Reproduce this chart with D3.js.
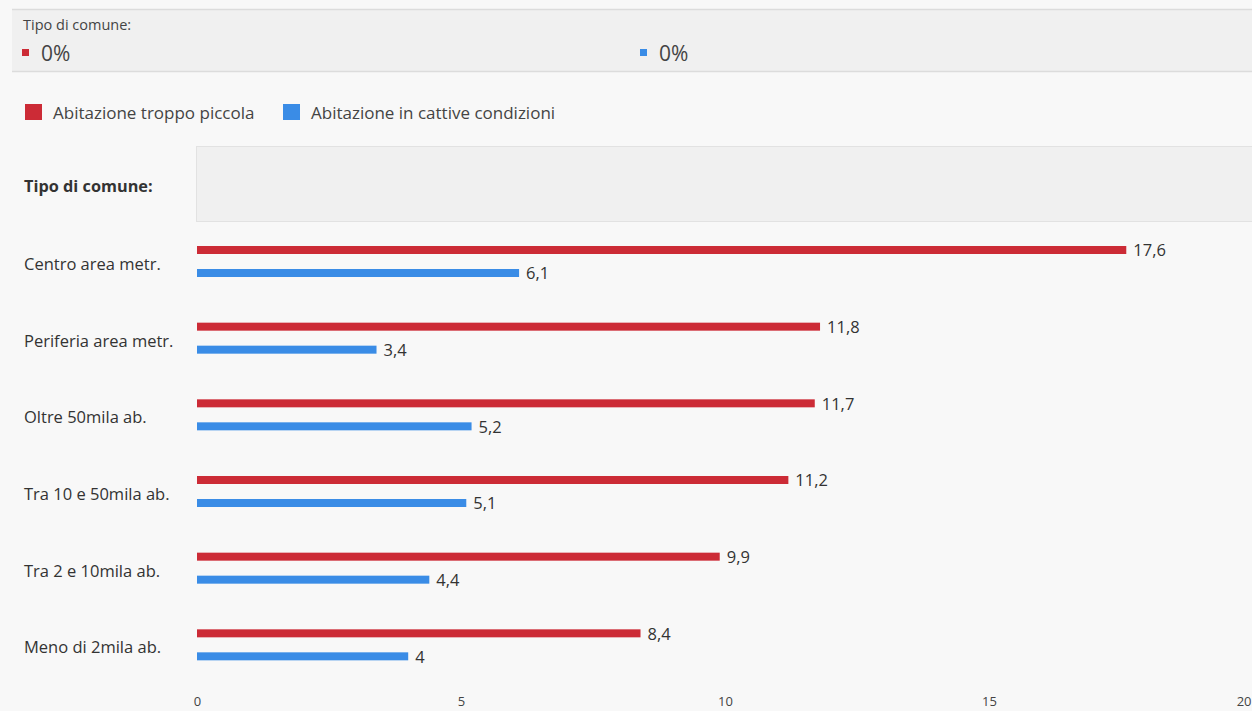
<!DOCTYPE html>
<html>
<head>
<meta charset="utf-8">
<script src="https://cdn.jsdelivr.net/npm/d3@7"></script>
<style>
  html, body { margin: 0; padding: 0; background: #f8f8f8; }
  svg { display: block; font-family: "Open Sans", "Noto Sans", sans-serif; }
</style>
</head>
<body>
<svg id="chart" width="1252" height="711"></svg>
<script>
const categories = [
  "Centro area metr.",
  "Periferia area metr.",
  "Oltre 50mila ab.",
  "Tra 10 e 50mila ab.",
  "Tra 2 e 10mila ab.",
  "Meno di 2mila ab."
];
const seriesNames = ["Abitazione troppo piccola", "Abitazione in cattive condizioni"];
const smallHouse = [17.6, 11.8, 11.7, 11.2, 9.9, 8.4];
const badCondition = [6.1, 3.4, 5.2, 5.1, 4.4, 4];
const tickValues = [0, 5, 10, 15, 20];
const colors = ["#cc2b36", "#3a8ce6"];

const svg = d3.select("#chart");
const fmt = v => String(v).replace(".", ",");

// Summary strip at the top
svg.append("rect").attr("x", 12).attr("y", 9).attr("width", 1240).attr("height", 63)
  .attr("fill", "#f0f0f0");
svg.append("line").attr("x1", 12).attr("x2", 1252).attr("y1", 9.5).attr("y2", 9.5)
  .attr("stroke", "#dcdcdc").attr("stroke-width", 1.5);
svg.append("line").attr("x1", 12).attr("x2", 1252).attr("y1", 71.5).attr("y2", 71.5)
  .attr("stroke", "#dcdcdc").attr("stroke-width", 1.5);
svg.append("text").attr("x", 23).attr("y", 30).attr("font-size", 14.5)
  .attr("fill", "#444").text("Tipo di comune:");
[22, 640].forEach((x, i) => {
  svg.append("rect").attr("x", x).attr("y", 49).attr("width", 7).attr("height", 7)
    .attr("fill", colors[i]);
  svg.append("text").attr("x", x + 19).attr("y", 61).attr("font-size", 21)
    .attr("fill", "#444").text("0%");
});

// Legend
const legendX = [25, 283];
seriesNames.forEach((name, i) => {
  svg.append("rect").attr("x", legendX[i]).attr("y", 104).attr("width", 17).attr("height", 16)
    .attr("fill", colors[i]);
  svg.append("text").attr("x", legendX[i] + 28).attr("y", 119).attr("font-size", 17)
    .attr("fill", "#444").text(name);
});

// Column header
svg.append("text").attr("x", 24).attr("y", 192).attr("font-size", 16.3)
  .attr("font-weight", "bold").attr("fill", "#333").text("Tipo di comune:");
svg.append("rect").attr("x", 196.5).attr("y", 146.5).attr("width", 1060).attr("height", 75)
  .attr("fill", "#f0f0f0").attr("stroke", "#e2e2e2");

// Scales
const x = d3.scaleLinear().domain([0, 20]).range([197, 1253]);
const y = d3.scaleBand().domain(categories).range([230, 690]).paddingInner(0).paddingOuter(0);
const barH = 8;

const rows = svg.append("g").selectAll("g").data(categories).join("g")
  .attr("transform", d => `translate(0,${y(d)})`);

rows.append("text").attr("x", 24).attr("y", 40).attr("font-size", 16.5)
  .attr("fill", "#333").text(d => d);

const series = [smallHouse, badCondition];
const offsets = [16, 39];
series.forEach((vals, s) => {
  rows.append("rect")
    .attr("x", x(0))
    .attr("y", offsets[s])
    .attr("width", (d, i) => x(vals[i]) - x(0))
    .attr("height", barH)
    .attr("fill", colors[s]);
  rows.append("text")
    .attr("x", (d, i) => x(vals[i]) + 7)
    .attr("y", offsets[s] + barH / 2)
    .attr("dy", "0.38em")
    .attr("font-size", 16.5)
    .attr("fill", "#333")
    .text((d, i) => fmt(vals[i]));
});

// Axis
const axis = d3.axisBottom(x).tickValues(tickValues).tickSize(0).tickPadding(0)
  .tickFormat(d => d);
const ax = svg.append("g").attr("transform", "translate(0,697)").call(axis);
ax.select(".domain").remove();
ax.selectAll("text").attr("font-size", 13).attr("fill", "#444")
  .attr("font-family", "'Open Sans', 'Noto Sans', sans-serif");
// Keep the last tick label inside the drawing area
ax.selectAll(".tick").filter(d => d === 20).select("text")
  .attr("text-anchor", "end").attr("x", -2);
</script>
</body>
</html>
